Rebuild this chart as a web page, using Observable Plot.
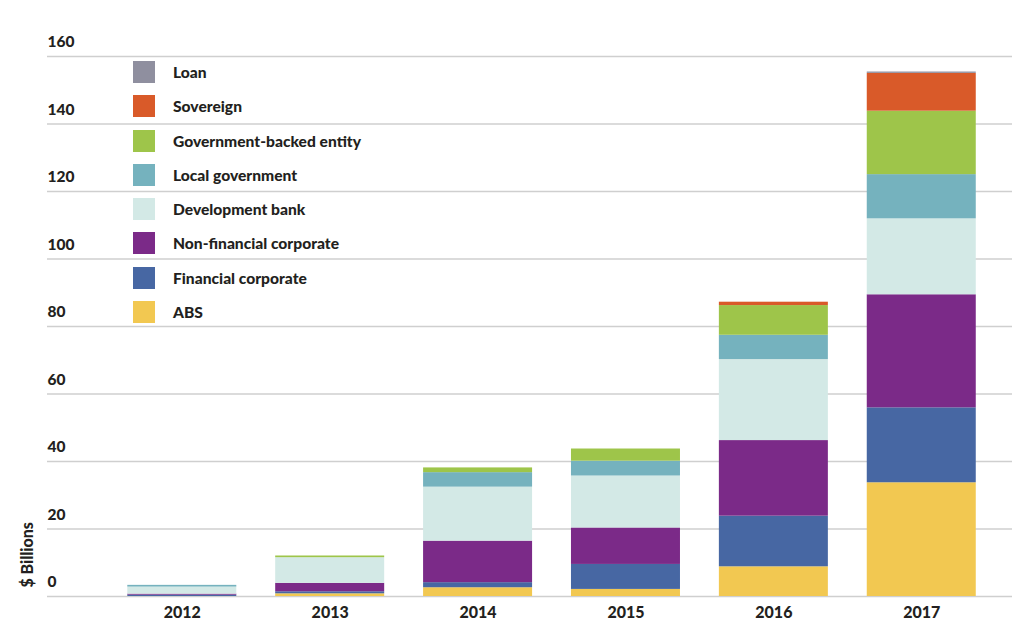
<!DOCTYPE html>
<html>
<head>
<meta charset="utf-8">
<script src="https://cdn.jsdelivr.net/npm/d3@7"></script>
<script src="https://cdn.jsdelivr.net/npm/@observablehq/plot@0.6"></script>
<style>
  html, body { margin: 0; padding: 0; background: #fff; }
  #wrap { position: relative; width: 1023px; height: 642px; font-family: Lato, "Open Sans", sans-serif; color: #231f20; }
  #legend { position: absolute; left: 133px; top: 54.85px; }
  .row { display: flex; align-items: center; height: 34.3px; }
  .sw { width: 22px; height: 22px; margin-right: 18px; }
  .lab { font-weight: 900; font-size: 15.6px; }
</style>
</head>
<body>
<div id="wrap"></div>
<script>
const years = ["2012", "2013", "2014", "2015", "2016", "2017"];
const categories = ["ABS", "Financial corporate", "Non-financial corporate", "Development bank", "Local government", "Government-backed entity", "Sovereign", "Loan"];
const colors = ["#f2c851", "#4767a3", "#7b2a88", "#d3e9e6", "#75b2be", "#9ec54a", "#d95a29", "#8f8f9f"];

const ABS = [0, 0.8, 2.6, 2.1, 8.8, 33.7];
const financialCorporate = [0.4, 0.6, 1.5, 7.4, 15.0, 22.2];
const nonFinancialCorporate = [0.3, 2.5, 12.3, 10.8, 22.4, 33.5];
const developmentBank = [2.1, 7.6, 16.0, 15.4, 24.0, 22.5];
const localGovernment = [0.5, 0, 4.3, 4.4, 7.2, 13.1];
const governmentBacked = [0, 0.5, 1.4, 3.6, 8.8, 18.8];
const sovereign = [0, 0, 0, 0, 1.0, 11.2];
const loan = [0, 0, 0, 0, 0, 0.4];
const yTicks = [0, 20, 40, 60, 80, 100, 120, 140, 160];
const yLabel = "$ Billions";

const series = [ABS, financialCorporate, nonFinancialCorporate, developmentBank, localGovernment, governmentBacked, sovereign, loan];
const data = [];
years.forEach((y, i) => categories.forEach((c, j) => data.push({year: y, category: c, value: series[j][i]})));

const chart = Plot.plot({
  width: 1023,
  height: 642,
  marginLeft: 47,
  marginRight: 11,
  marginTop: 56,
  marginBottom: 46,
  style: {fontFamily: "Lato, 'Open Sans', sans-serif", fontSize: "15.5px", fontWeight: 900, color: "#231f20", background: "#fff"},
  x: {domain: years, paddingInner: 0.263, paddingOuter: 0.394, align: 0.689, round: false, label: null},
  y: {domain: [0, 160], label: null},
  color: {domain: categories, range: colors},
  marks: [
    Plot.ruleY(yTicks, {stroke: "#cfcfcf", strokeWidth: 1.4}),
    Plot.barY(data, {x: "year", y: "value", fill: "category", order: categories}),
    Plot.axisY({ticks: yTicks, tickSize: 0, tickPadding: 0, textAnchor: "start", dy: -14, fill: "#231f20", fontWeight: 900, label: null}),
    Plot.axisX({tickSize: 0, tickPadding: 10, fill: "#231f20", fontWeight: 900, fontSize: 16, label: null}),
    Plot.text([yLabel], {frameAnchor: "bottom-left", rotate: -90, textAnchor: "start", dx: -15, dy: -9, fontWeight: 900, fontSize: 16, fill: "#231f20"})
  ]
});

const wrap = document.getElementById("wrap");
wrap.appendChild(chart);

const legend = document.createElement("div");
legend.id = "legend";
categories.slice().reverse().forEach((c) => {
  const j = categories.indexOf(c);
  const row = document.createElement("div");
  row.className = "row";
  const sw = document.createElement("div");
  sw.className = "sw";
  sw.style.background = colors[j];
  const lab = document.createElement("div");
  lab.className = "lab";
  lab.textContent = c;
  row.appendChild(sw);
  row.appendChild(lab);
  legend.appendChild(row);
});
wrap.appendChild(legend);
</script>
</body>
</html>
